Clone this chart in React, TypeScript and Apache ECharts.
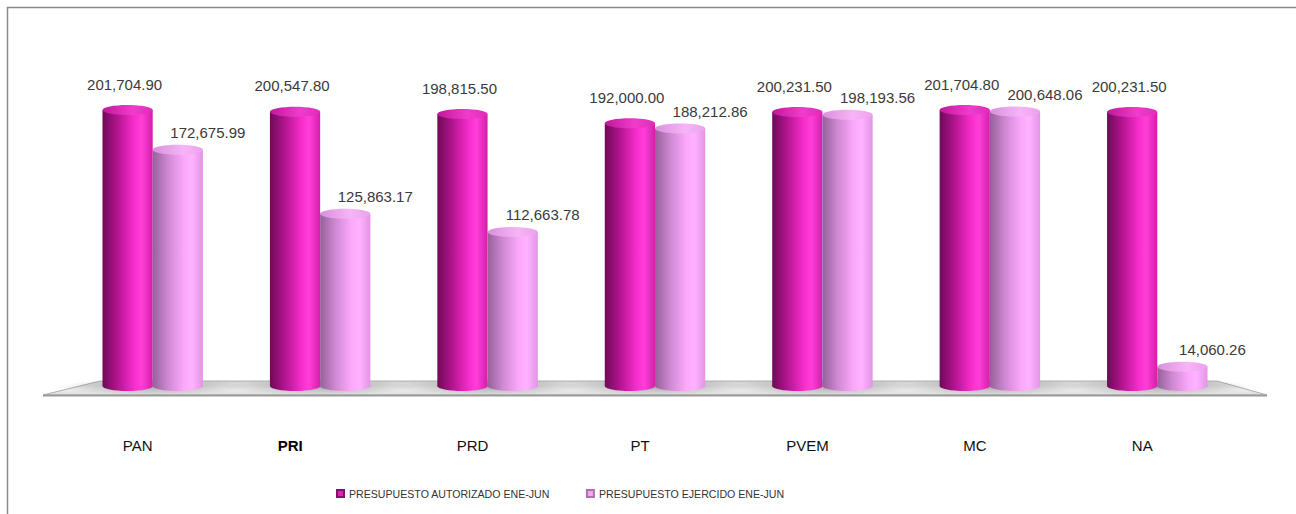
import React, { useEffect, useRef } from "react";
import * as echarts from "echarts";

const categories = ["PAN", "PRI", "PRD", "PT", "PVEM", "MC", "NA"];
const autorizado = [201704.9, 200547.8, 198815.5, 192000.0, 200231.5, 201704.8, 200231.5];
const ejercido = [172675.99, 125863.17, 112663.78, 188212.86, 198193.56, 200648.06, 14060.26];
const seriesNames = ["PRESUPUESTO AUTORIZADO ENE-JUN", "PRESUPUESTO EJERCIDO ENE-JUN"];

const FONT = '"Liberation Sans", Arial, sans-serif';

const fmt = (v: number) =>
  v.toLocaleString("en-US", { minimumFractionDigits: 2, maximumFractionDigits: 2 });

const bodyStops = [
  [
    { offset: 0, color: "#6e0a58" },
    { offset: 0.3, color: "#b3148e" },
    { offset: 0.62, color: "#f52ccb" },
    { offset: 0.78, color: "#ff3fd8" },
    { offset: 1, color: "#d41fab" },
  ],
  [
    { offset: 0, color: "#96609a" },
    { offset: 0.3, color: "#cf88d2" },
    { offset: 0.62, color: "#fba8fb" },
    { offset: 0.78, color: "#ffb3ff" },
    { offset: 1, color: "#e394e6" },
  ],
];
const topStops = [
  [
    { offset: 0, color: "#c0189a" },
    { offset: 0.6, color: "#f03ccc" },
    { offset: 1, color: "#e02cb8" },
  ],
  [
    { offset: 0, color: "#d890dc" },
    { offset: 0.6, color: "#f7b4f7" },
    { offset: 1, color: "#eaa2ec" },
  ],
];
const labelDx = [-3, 30];
const labelDy = [-26, -17];

function makeRender(s: number) {
  return (params: any, api: any) => {
    const idx = api.value(0);
    const val = api.value(1);
    const top = api.coord([idx, val]);
    const base = api.coord([idx, 0]);
    const band = api.size([1, 0])[0];
    const w = band * 0.3;
    const cx = top[0] + (s === 0 ? -w / 2 : w / 2);
    const ry = 5;
    const children: any[] = [];
    if (s === 0) {
      children.push({
        type: "ellipse",
        shape: { cx: cx + w * 0.5, cy: base[1] + 1, rx: w * 1.9, ry: 8 },
        style: {
          fill: new echarts.graphic.RadialGradient(0.5, 0.5, 0.5, [
            { offset: 0, color: "rgba(0,0,0,0.28)" },
            { offset: 1, color: "rgba(0,0,0,0)" },
          ]),
        },
      });
    }
    children.push({
      type: "ellipse",
      shape: { cx, cy: base[1], rx: w / 2, ry },
      style: { fill: new echarts.graphic.LinearGradient(0, 0, 1, 0, bodyStops[s]) },
    });
    children.push({
      type: "rect",
      shape: { x: cx - w / 2, y: top[1], width: w, height: base[1] - top[1] },
      style: { fill: new echarts.graphic.LinearGradient(0, 0, 1, 0, bodyStops[s]) },
    });
    children.push({
      type: "ellipse",
      shape: { cx, cy: top[1], rx: w / 2, ry },
      style: { fill: new echarts.graphic.LinearGradient(0, 0, 1, 0, topStops[s]) },
    });
    children.push({
      type: "text",
      x: cx + labelDx[s],
      y: top[1] + labelDy[s],
      style: {
        text: fmt(val),
        fill: "#3a3a3a",
        fontSize: 15,
        fontFamily: FONT,
        align: "center",
        verticalAlign: "middle",
      },
    });
    return { type: "group", children };
  };
}

export default function App() {
  const ref = useRef<HTMLDivElement>(null);
  useEffect(() => {
    if (!ref.current) return;
    const chart = echarts.init(ref.current, null, { renderer: "svg" });
    const floorFill = new echarts.graphic.LinearGradient(0, 0, 0, 1, [
      { offset: 0, color: "#cfcfcf" },
      { offset: 0.55, color: "#efefef" },
      { offset: 1, color: "#dedede" },
    ]);
    chart.setOption({
      animation: false,
      backgroundColor: "#ffffff",
      grid: { left: 69, right: 55, top: 44, bottom: 128 },
      xAxis: {
        type: "category",
        data: categories,
        axisLine: { show: false },
        axisTick: { show: false },
        axisLabel: {
          margin: 52,
          fontSize: 15,
          fontFamily: FONT,
          color: "#111",
          padding: [0, 30, 0, 0],
          formatter: (v: string) => (v === "PRI" ? `{b|${v}}` : v),
          rich: { b: { fontWeight: "bold", fontSize: 15, fontFamily: FONT, color: "#000", padding: [0, 30, 4, 0] } },
        },
      },
      yAxis: { type: "value", min: 0, max: 250000, show: false },
      legend: {
        left: 331,
        top: 483,
        itemWidth: 7,
        itemHeight: 7,
        itemGap: 36,
        textStyle: { fontSize: 10.6, fontFamily: FONT, color: "#333" },
        data: [
          { name: seriesNames[0], icon: "rect" },
          { name: seriesNames[1], icon: "rect" },
        ],
      },
      graphic: [
        {
          type: "line",
          silent: true,
          shape: { x1: 7, y1: 7.5, x2: 1296, y2: 7.5 },
          style: { stroke: "#8a8a8a", lineWidth: 1.5 },
        },
        {
          type: "line",
          silent: true,
          shape: { x1: 7.5, y1: 7, x2: 7.5, y2: 514 },
          style: { stroke: "#8a8a8a", lineWidth: 1.5 },
        },
        {
          type: "polygon",
          silent: true,
          shape: { points: [[43, 395], [100, 381], [1217, 381], [1267, 395]] },
          style: { fill: floorFill, stroke: "#b0b0b0", lineWidth: 1 },
        },
        {
          type: "line",
          silent: true,
          shape: { x1: 43, y1: 395.5, x2: 1267, y2: 395.5 },
          style: { stroke: "#9a9a9a", lineWidth: 2 },
        },
      ],
      series: [
        {
          type: "custom",
          name: seriesNames[0],
          z: 3,
          itemStyle: { color: "#e020b2", borderColor: "#8a0c6c", borderWidth: 0.5 },
          renderItem: makeRender(0),
          data: autorizado.map((v, i) => [i, v]),
        },
        {
          type: "custom",
          name: seriesNames[1],
          z: 4,
          itemStyle: { color: "#f3a6f3", borderColor: "#b070b0", borderWidth: 0.5 },
          renderItem: makeRender(1),
          data: ejercido.map((v, i) => [i, v]),
        },
      ],
    });
    return () => chart.dispose();
  }, []);
  return (
    <div
      ref={ref}
      style={{ position: "fixed", left: 0, top: 0, width: 1296, height: 514, background: "#fff" }}
    />
  );
}
